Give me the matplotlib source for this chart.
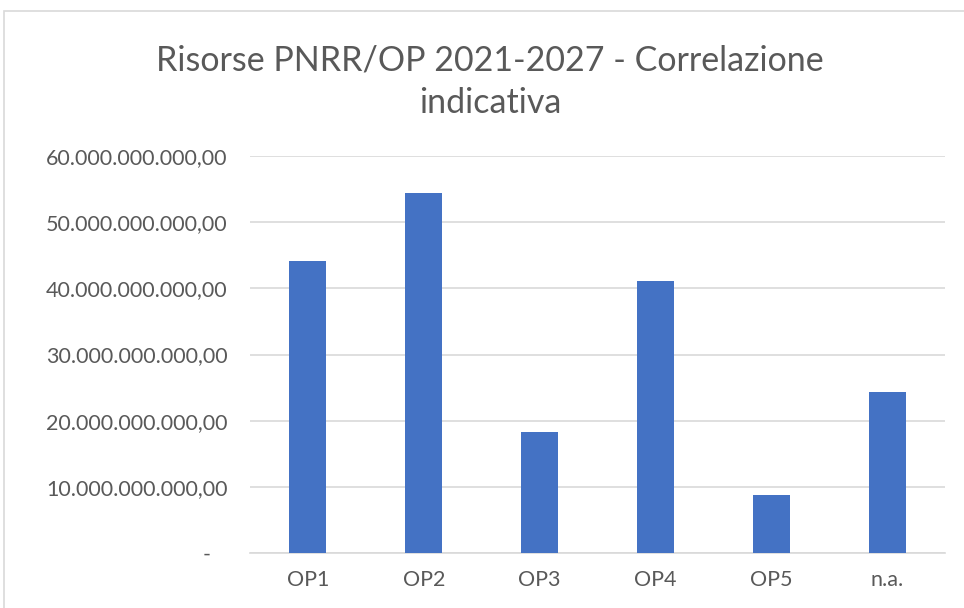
import matplotlib.pyplot as plt
from matplotlib.patches import Rectangle
from matplotlib.ticker import FuncFormatter

# Dati (euro)
categorie = ["OP1", "OP2", "OP3", "OP4", "OP5", "n.a."]
risorse = [44.2e9, 54.45e9, 18.25e9, 41.1e9, 8.75e9, 24.35e9]
y_ticks = [0, 10e9, 20e9, 30e9, 40e9, 50e9, 60e9]

testo = "#595959"
plt.rcParams["font.family"] = ["Lato", "DejaVu Sans"]


def formato_it(v, pos):
    if v == 0:
        return "-   "
    s = f"{v:,.2f}"
    return s.replace(",", "X").replace(".", ",").replace("X", ".")


fig = plt.figure(figsize=(9.64, 6.08), dpi=100)
ax = fig.add_axes([250 / 964, (608 - 553) / 608, 695 / 964, 397 / 608])

ax.bar(categorie, risorse, width=0.32, color="#4472C4", zorder=3)

ax.set_ylim(0, 60e9)
ax.set_xlim(-0.5, len(categorie) - 0.5)
ax.set_yticks(y_ticks)
ax.yaxis.set_major_formatter(FuncFormatter(formato_it))
ax.grid(axis="y", color="#D9D9D9", linewidth=1.2, zorder=0)

for s in ["top", "right", "left"]:
    ax.spines[s].set_visible(False)
ax.spines["bottom"].set_color("#D9D9D9")
ax.spines["bottom"].set_linewidth(1.2)
ax.tick_params(axis="both", length=0, labelsize=15.5, colors=testo)
ax.tick_params(axis="y", pad=16)
ax.tick_params(axis="x", pad=12)

fig.text(490 / 964, 1 - 82 / 608, "Risorse PNRR/OP 2021-2027 - Correlazione\nindicativa",
         ha="center", va="center", fontsize=24.5, color=testo, linespacing=1.4)

# bordo del grafico
fig.patches.append(Rectangle((4 / 964, -0.05), 1.1, 1 - 11 / 608 + 0.05,
                             transform=fig.transFigure, fill=False,
                             edgecolor="#D9D9D9", linewidth=1.2))

fig.savefig("out.png", dpi=100)
